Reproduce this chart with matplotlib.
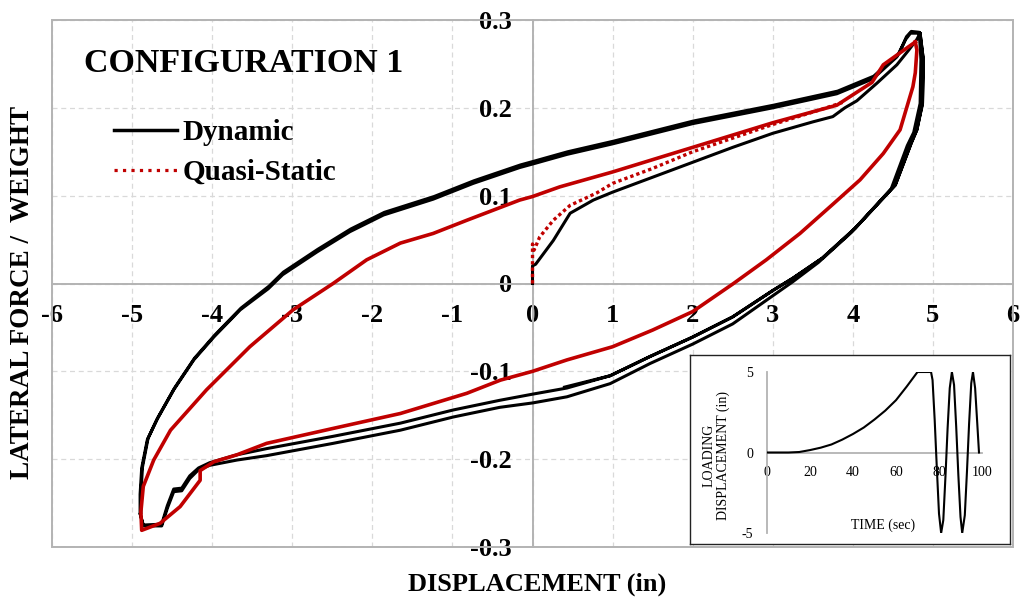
import numpy as np
import matplotlib
matplotlib.use("Agg")
import matplotlib.pyplot as plt
from matplotlib.lines import Line2D
from matplotlib.patches import Rectangle

plt.rcParams["font.family"] = ["Liberation Serif", "DejaVu Serif"]
plt.rcParams["axes.unicode_minus"] = False

# ---------------- axis ticks ----------------
x_ticks = [-6, -5, -4, -3, -2, -1, 0, 1, 2, 3, 4, 5, 6]
x_tick_labels = ["-6", "-5", "-4", "-3", "-2", "-1", "0", "1", "2", "3", "4", "5", "6"]
y_ticks = [-0.3, -0.2, -0.1, 0.0, 0.1, 0.2, 0.3]
y_tick_labels = ["-0.3", "-0.2", "-0.1", "0", "0.1", "0.2", "0.3"]

# ---------------- dynamic test (displacement in, force/weight) ----------------
dyn_init_x = [0.00, 0.00, 0.04, 0.26, 0.47, 0.76, 1.00, 1.50, 2.00, 2.50, 3.00, 3.50,
              3.75, 3.90, 4.05, 4.30, 4.55, 4.70, 4.80, 4.84]
dyn_init_y = [0.000, 0.020, 0.022, 0.049, 0.080, 0.095, 0.104, 0.121, 0.138, 0.155, 0.171, 0.184,
              0.190, 0.200, 0.208, 0.228, 0.249, 0.266, 0.278, 0.285]

# unloading, first pass (outer right side, upper of the two lower traces)
dyn_fall_a_x = [4.84, 4.88, 4.87, 4.80, 4.73, 4.53, 4.03, 3.62, 3.25, 3.00, 2.50, 2.00, 1.47,
                0.97, 0.43, 0.00, -0.41, -0.99, -1.65, -2.49, -3.32, -3.69, -4.03, -4.17,
                -4.28, -4.38, -4.48, -4.56, -4.63, -4.86, -4.90]
dyn_fall_a_y = [0.285, 0.255, 0.205, 0.175, 0.160, 0.112, 0.063, 0.029, 0.006, -0.008, -0.038,
                -0.061, -0.083, -0.105, -0.119, -0.126, -0.133, -0.144, -0.159, -0.174, -0.188,
                -0.195, -0.204, -0.210, -0.219, -0.233, -0.234, -0.253, -0.274, -0.275, -0.262]

# unloading, second pass
dyn_fall_b_x = [4.83, 4.85, 4.84, 4.76, 4.68, 4.48, 3.98, 3.57, 3.25, 3.00, 2.50, 2.00, 1.47,
                0.97, 0.43, 0.00, -0.41, -0.99, -1.65, -2.49, -3.32, -3.69, -4.03, -4.17,
                -4.28, -4.38, -4.48, -4.56, -4.63, -4.86, -4.90]
dyn_fall_b_y = [0.285, 0.255, 0.205, 0.172, 0.157, 0.108, 0.058, 0.024, 0.002, -0.014, -0.046,
                -0.069, -0.091, -0.114, -0.129, -0.136, -0.141, -0.152, -0.167, -0.182, -0.196,
                -0.201, -0.207, -0.212, -0.222, -0.236, -0.237, -0.256, -0.276, -0.276, -0.262]

# reloading towards the positive peak, two passes
dyn_rise_a_x = [-4.90, -4.90, -4.88, -4.81, -4.69, -4.48, -4.23, -3.98, -3.65, -3.30, -3.12,
                -2.69, -2.28, -1.86, -1.24, -0.74, -0.16, 0.00, 0.43, 1.00, 2.00, 3.00, 3.80,
                4.25, 4.55, 4.66, 4.72, 4.84]
dyn_rise_a_y = [-0.262, -0.240, -0.210, -0.178, -0.155, -0.121, -0.087, -0.061, -0.030, -0.006,
                0.010, 0.036, 0.059, 0.078, 0.096, 0.114, 0.132, 0.136, 0.147, 0.159, 0.182,
                0.200, 0.216, 0.233, 0.258, 0.278, 0.285, 0.285]
dyn_rise_b_x = [-4.89, -4.89, -4.87, -4.80, -4.68, -4.47, -4.22, -3.97, -3.64, -3.29, -3.11,
                -2.68, -2.27, -1.85, -1.23, -0.73, -0.15, 0.01, 0.44, 1.01, 2.01, 3.01, 3.81,
                4.26, 4.58, 4.67, 4.73, 4.83]
dyn_rise_b_y = [-0.262, -0.239, -0.209, -0.176, -0.153, -0.119, -0.085, -0.059, -0.028, -0.003,
                0.013, 0.039, 0.062, 0.081, 0.099, 0.117, 0.135, 0.139, 0.150, 0.162, 0.185,
                0.203, 0.219, 0.236, 0.262, 0.281, 0.287, 0.286]

# last unloading stops part way along the lower branch
dyn_end_x = [4.84, 4.88, 4.87, 4.80, 4.73, 4.53, 4.03, 3.62, 3.25, 3.00, 2.50, 2.00, 1.47, 0.97, 0.40]
dyn_end_y = [0.285, 0.255, 0.205, 0.175, 0.160, 0.112, 0.063, 0.029, 0.006, -0.008, -0.038,
             -0.061, -0.083, -0.105, -0.118]

# ---------------- quasi-static test ----------------
qs_init_x = [0.00, 0.00, 0.02, 0.09, 0.26, 0.47, 0.80, 1.00, 1.50, 2.00, 3.00, 3.60, 3.90]
qs_init_y = [0.000, 0.045, 0.038, 0.053, 0.072, 0.089, 0.103, 0.114, 0.131, 0.150, 0.181,
             0.198, 0.207]

qs_fall_x = [4.78, 4.80, 4.78, 4.75, 4.59, 4.38, 4.09, 3.76, 3.34, 2.92, 2.51, 2.00, 1.50,
             1.00, 0.43, 0.00, -0.40, -0.82, -1.65, -2.49, -3.32, -3.69, -3.98, -4.15, -4.15,
             -4.40, -4.65, -4.88]
qs_fall_y = [0.275, 0.266, 0.240, 0.224, 0.175, 0.148, 0.118, 0.091, 0.057, 0.027, 0.000,
             -0.032, -0.053, -0.072, -0.087, -0.100, -0.110, -0.125, -0.148, -0.165, -0.182,
             -0.195, -0.203, -0.213, -0.224, -0.254, -0.273, -0.281]

qs_rise_x = [-4.88, -4.89, -4.86, -4.73, -4.52, -4.07, -3.53, -2.99, -2.49, -2.07, -1.65, -1.24,
             -0.82, -0.16, 0.00, 0.34, 1.00, 2.00, 3.00, 3.80, 4.24, 4.38, 4.78]
qs_rise_y = [-0.281, -0.260, -0.231, -0.201, -0.167, -0.121, -0.072, -0.030, 0.000, 0.027,
             0.046, 0.057, 0.072, 0.095, 0.099, 0.110, 0.127, 0.155, 0.183, 0.203, 0.229,
             0.249, 0.275]

# ---------------- loading protocol (inset) ----------------
load_time = [0, 10, 15, 20, 25, 30, 35, 40, 45, 50, 55, 60, 65, 70, 76.3, 77, 78, 79, 80, 81,
             82, 83, 84, 85, 86, 87, 88, 89, 90, 90.8, 92, 93, 94, 95, 95.8, 96.8, 97.8, 98.6]
load_disp = [0, 0, 0.03, 0.15, 0.3, 0.5, 0.8, 1.15, 1.55, 2.05, 2.6, 3.25, 4.1, 5, 5, 4.5, 2.0,
             -1.0, -3.8, -5, -4.2, -1.5, 1.5, 4.0, 5, 4.2, 1.6, -1.4, -4.0, -5, -3.9, -1.2, 1.8,
             4.3, 5, 4.0, 1.8, 0]
load_x_ticks = [0, 20, 40, 60, 80, 100]
load_y_ticks = [-5, 0, 5]

BLACK = "#000000"
RED = "#C00000"
GRAY = "#b3b3b3"
GRID = "#d9d9d9"

W, H = 1024, 599
fig = plt.figure(figsize=(W / 100, H / 100), dpi=100)


def fx(px):
    return px / W


def fy(py):
    return 1 - py / H


# ---------------- main hysteresis axes ----------------
ax = fig.add_axes([fx(52), fy(547), fx(961), 527 / H])
ax.set_xlim(-6, 6)
ax.set_ylim(-0.3, 0.3)
ax.set_axisbelow(True)
ax.grid(True, color=GRID, lw=0.9, ls=(0, (4, 3)))

for side in ("top", "right"):
    ax.spines[side].set_visible(False)
ax.spines["left"].set_position(("data", 0))
ax.spines["bottom"].set_position(("data", 0))
for side in ("left", "bottom"):
    ax.spines[side].set_color(GRAY)
    ax.spines[side].set_linewidth(1.4)
ax.add_patch(Rectangle((0, 0), 1, 1, transform=ax.transAxes, fill=False,
                       ec=GRAY, lw=1.4, clip_on=False, zorder=1))

ax.set_xticks(x_ticks)
ax.set_xticklabels(x_tick_labels)
ax.set_yticks(y_ticks)
ax.set_yticklabels(y_tick_labels)
ax.tick_params(axis="x", length=0, pad=15, labelsize=19)
ax.tick_params(axis="y", length=0, pad=15, labelsize=19)
for lab in ax.get_xticklabels() + ax.get_yticklabels():
    lab.set_fontweight("bold")

# dynamic loops
dyn_x = dyn_init_x + dyn_fall_a_x + dyn_rise_a_x + dyn_fall_b_x + dyn_rise_b_x + dyn_end_x
dyn_y = dyn_init_y + dyn_fall_a_y + dyn_rise_a_y + dyn_fall_b_y + dyn_rise_b_y + dyn_end_y
ax.plot(dyn_x, dyn_y, color=BLACK, lw=2.2, zorder=3, solid_joinstyle="round")

# quasi-static loop
ax.plot(qs_init_x, qs_init_y, color=RED, lw=2.4, ls=(0, (1, 0.9)), zorder=4)
qs_x = qs_fall_x + qs_rise_x
qs_y = qs_fall_y + qs_rise_y
ax.plot(qs_x, qs_y, color=RED, lw=2.6, zorder=4, solid_joinstyle="round")

# title, legend and axis labels
fig.text(fx(84), fy(72), "CONFIGURATION 1", fontsize=24.5, fontweight="bold", va="baseline")

handles = [Line2D([], [], color=BLACK, lw=2.5),
           Line2D([], [], color=RED, lw=2.3, ls=":")]
fig.legend(handles, ["Dynamic", "Quasi-Static"], loc="upper left",
           bbox_to_anchor=(fx(114), fy(119)), frameon=False,
           prop={"size": 21, "weight": "bold"}, handlelength=2.16, handletextpad=0.2,
           labelspacing=0.45, borderpad=0, borderaxespad=0)

fig.text(fx(537.5), fy(591), "DISPLACEMENT (in)", fontsize=19, fontweight="bold",
         ha="center", va="baseline")
fig.text(fx(22.5), fy(292), "LATERAL FORCE /  WEIGHT", fontsize=19.5, fontweight="bold",
         rotation=90, ha="center", va="center")

# ---------------- inset: loading protocol ----------------
box = fig.add_axes([fx(690), fy(544), fx(320), 189 / H])
box.set_xticks([])
box.set_yticks([])
box.set_facecolor("white")
for s in box.spines.values():
    s.set_color("#222222")
    s.set_linewidth(1.0)

ins = fig.add_axes([fx(767), fy(533), fx(215), 161 / H])
ins.patch.set_alpha(0)
ins.set_xlim(0, 100)
ins.set_ylim(-5, 5)
for side in ("top", "right"):
    ins.spines[side].set_visible(False)
ins.spines["left"].set_position(("data", 0))
ins.spines["bottom"].set_position(("data", 0))
for side in ("left", "bottom"):
    ins.spines[side].set_color(GRAY)
    ins.spines[side].set_linewidth(1.3)
ins.set_xticks(load_x_ticks)
ins.set_yticks(load_y_ticks)
ins.tick_params(length=0, labelsize=10)
ins.tick_params(axis="x", pad=10)
ins.tick_params(axis="y", pad=10)
ins.plot(load_time, load_disp, color=BLACK, lw=1.5, zorder=3)

fig.text(fx(883), fy(525), "TIME (sec)", fontsize=10, ha="center", va="center")
fig.text(fx(716), fy(455), "LOADING\nDISPLACEMENT (in)", fontsize=10, rotation=90,
         ha="center", va="center", multialignment="center", linespacing=1.1)

fig.savefig("out.png", dpi=100)
